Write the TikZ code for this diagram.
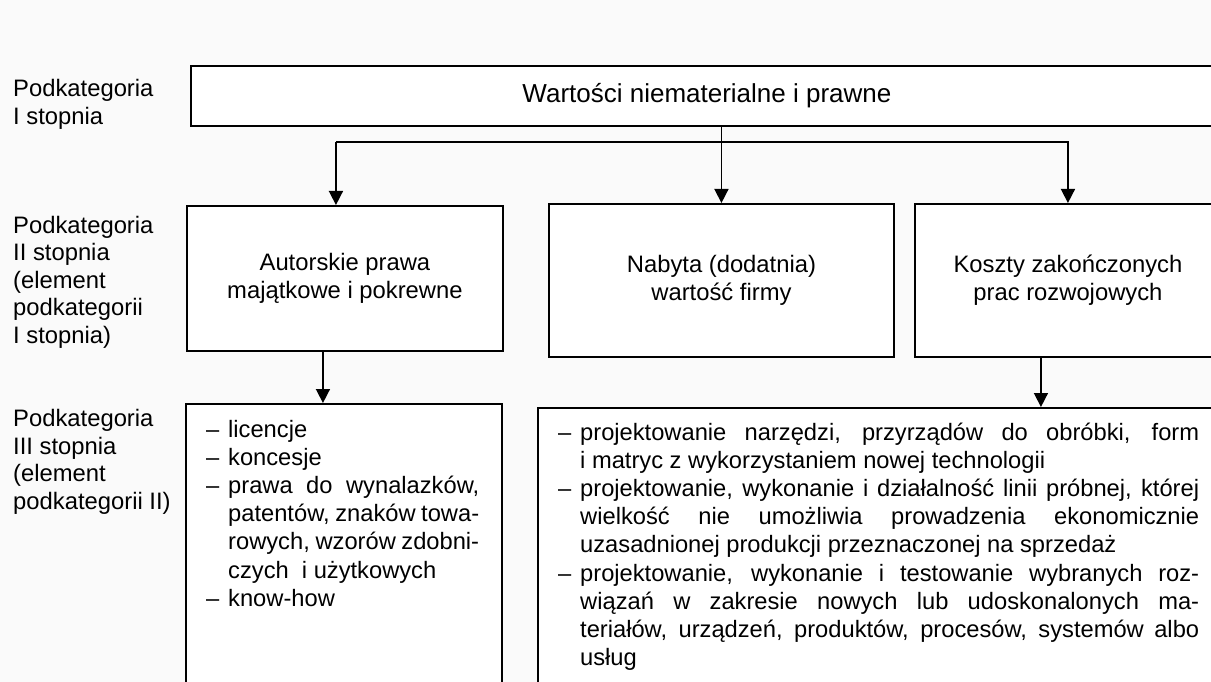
\documentclass[tikz,border=0pt]{standalone}
\usepackage{fontspec}
\setmainfont{Liberation Sans}
\usetikzlibrary{arrows.meta,positioning}
\newdimen\linew
\newcommand{\fillline}[1]{\makebox[\linew][s]{#1}}

\begin{document}
\begin{tikzpicture}[
    x=1pt, y=-1pt,
    box/.style={draw,line width=1.9pt,fill=white,inner sep=0pt,align=center,font=\fontsize{23.8}{27.5}\selectfont},
    lvl/.style={anchor=base west,align=left,inner sep=0pt,font=\fontsize{23.8}{27.5}\selectfont},
    items/.style={anchor=base west,inner sep=0pt,font=\fontsize{23.7}{28.2}\selectfont},
    arr/.style={-{Triangle[length=14pt,width=14pt]},line width=1.6pt}
]
\fill[black!2,use as bounding box] (0,0) rectangle (1211,682);
\clip (0,0) rectangle (1211,682);

% level labels (base = last line)
\node[lvl] (lab1) at (13,124.5) {Podkategoria\\I stopnia};
\node[lvl] (lab2) at (13,343) {Podkategoria\\II stopnia\\(element\\podkategorii\\I stopnia)};
\node[lvl] (lab3) at (13,509) {Podkategoria\\III stopnia\\(element\\podkategorii II)};

% boxes
\node[box,anchor=north west,minimum width=1032,minimum height=60,font=\fontsize{26}{30}\selectfont] (lvlone) at (190,65) {Wartości niematerialne i prawne};
\node[box,anchor=north west,minimum width=316,minimum height=145] (autor) at (186,205) {Autorskie prawa\\majątkowe i pokrewne};
\node[box,anchor=north west,minimum width=345,minimum height=153] (nabyta) at (548,203) {Nabyta (dodatnia)\\wartość firmy};
\node[box,anchor=north west,minimum width=306,minimum height=153] (koszty) at (914,203) {Koszty zakończonych\\prac rozwojowych};
\node[box,anchor=north west,minimum width=316,minimum height=300] (leftlist) at (185,403) {};
\node[box,anchor=north west,minimum width=700,minimum height=300] (projekt) at (537,407) {};

% list texts
\node[items] (lefttxt) at (206,437) {\linew=251pt
\begin{tabular}[t]{@{}l@{}l@{}}
\makebox[22pt][l]{–} & licencje\\
– & koncesje\\
– & \fillline{prawa do wynalazków,}\\
  & \fillline{patentów, znaków towa-}\\
  & \fillline{rowych, wzorów zdobni-}\\
  & czych \ i użytkowych\\
– & know-how
\end{tabular}};
\node[items] (righttxt) at (558,440) {\linew=619pt
\begin{tabular}[t]{@{}l@{}l@{}}
\makebox[22pt][l]{–} & \fillline{projektowanie narzędzi, przyrządów do obróbki, form}\\
  & i matryc z wykorzystaniem nowej technologii\\
– & \fillline{projektowanie, wykonanie i działalność linii próbnej, której}\\
  & \fillline{wielkość nie umożliwia prowadzenia ekonomicznie}\\
  & uzasadnionej produkcji przeznaczonej na sprzedaż\\
– & \fillline{projektowanie, wykonanie i testowanie wybranych roz-}\\
  & \fillline{wiązań w zakresie nowych lub udoskonalonych ma-}\\
  & \fillline{teriałów, urządzeń, produktów, procesów, systemów albo}\\
  & usług
\end{tabular}};

% connectors
\coordinate (bar) at (0,142);
\coordinate (autorin) at ([xshift=-9pt]autor.north);
\draw[arr] (lvlone.south -| nabyta.north) -- (nabyta.north);
\draw[arr] (autorin |- bar) -| (koszty.north);
\draw[arr] (autorin |- bar) -- (autorin);
\draw[arr] ([xshift=-22pt]autor.south) -- ([xshift=-22pt]autor.south |- leftlist.north);
\draw[arr] ([xshift=-27pt]koszty.south) -- ([xshift=-27pt]koszty.south |- projekt.north);
\end{tikzpicture}
\end{document}
